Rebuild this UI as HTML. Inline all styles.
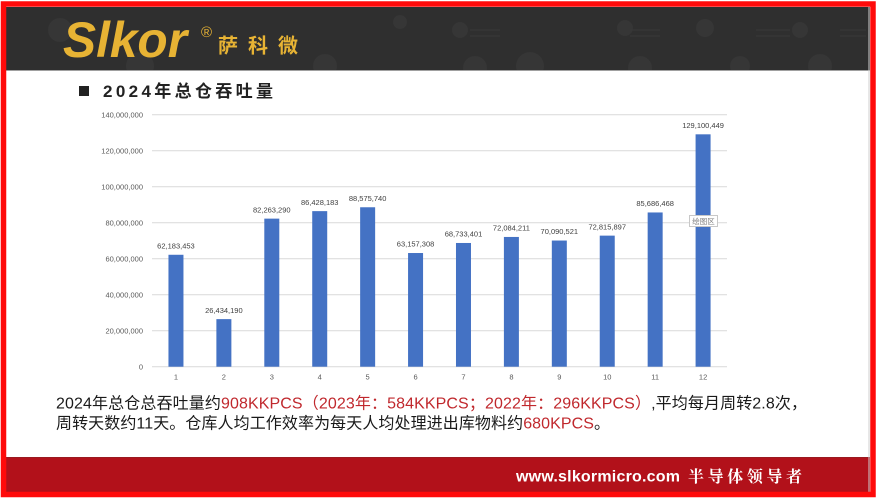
<!DOCTYPE html>
<html>
<head>
<meta charset="utf-8">
<style>
html,body{margin:0;padding:0;background:#fff;}
body{width:877px;height:500px;overflow:hidden;}
svg{display:block;}
</style>
</head>
<body>
<svg width="877" height="500" viewBox="0 0 877 500" xmlns="http://www.w3.org/2000/svg">
  <defs>
    <clipPath id="hdr"><rect x="6" y="7" width="864" height="63"/></clipPath>
  </defs>
  <rect x="0" y="0" width="877" height="500" fill="#fff"/>
  <!-- header -->
  <rect x="6" y="7" width="864" height="63" fill="#2f2f2f"/>
  <g clip-path="url(#hdr)">
    <g fill="#363636">
      <circle cx="60" cy="30" r="12"/>
      <circle cx="140" cy="66" r="14"/>
      <circle cx="325" cy="66" r="12"/>
      <circle cx="400" cy="22" r="7"/>
      <circle cx="460" cy="30" r="8"/>
      <circle cx="475" cy="68" r="12"/>
      <circle cx="530" cy="66" r="14"/>
      <circle cx="625" cy="28" r="8"/>
      <circle cx="640" cy="68" r="12"/>
      <circle cx="705" cy="28" r="9"/>
      <circle cx="740" cy="66" r="10"/>
      <circle cx="800" cy="30" r="8"/>
      <circle cx="820" cy="66" r="12"/>
    </g>
    <g stroke="#383838" stroke-width="1">
      <line x1="470" y1="30" x2="500" y2="30"/><line x1="470" y1="36" x2="500" y2="36"/>
      <line x1="630" y1="30" x2="660" y2="30"/><line x1="630" y1="36" x2="660" y2="36"/>
      <line x1="756" y1="30" x2="790" y2="30"/><line x1="756" y1="36" x2="790" y2="36"/>
      <line x1="840" y1="30" x2="866" y2="30"/><line x1="840" y1="36" x2="866" y2="36"/>
    </g>
  </g>
  <line x1="6" y1="70.5" x2="870" y2="70.5" stroke="#a0a0a0" stroke-width="1"/>
  <text x="63" y="57" font-family="Liberation Sans, sans-serif" font-weight="bold" font-style="italic" font-size="50" fill="#e7b334" textLength="124" lengthAdjust="spacingAndGlyphs">Slkor</text>
  <text x="201" y="37" font-family="Liberation Sans, sans-serif" font-size="15" fill="#e7b334">®</text>
  <text x="218" y="52.5" font-family="Liberation Sans, 'Noto Sans CJK SC', sans-serif" font-weight="bold" font-size="20" letter-spacing="10" fill="#e7b334">萨科微</text>

  <!-- title -->
  <rect x="79" y="86" width="10" height="10" fill="#222"/>
  <text x="103" y="97" font-family="Liberation Sans, 'Noto Sans CJK SC', sans-serif" font-weight="bold" font-size="17" fill="#222" textLength="170" lengthAdjust="spacing">2024年总仓吞吐量</text>

  <!-- chart gridlines -->
  <g stroke="#d9d9d9" stroke-width="1">
    <line x1="152" y1="114.7" x2="727" y2="114.7"/>
    <line x1="152" y1="150.7" x2="727" y2="150.7"/>
    <line x1="152" y1="186.7" x2="727" y2="186.7"/>
    <line x1="152" y1="222.7" x2="727" y2="222.7"/>
    <line x1="152" y1="258.7" x2="727" y2="258.7"/>
    <line x1="152" y1="294.7" x2="727" y2="294.7"/>
    <line x1="152" y1="330.7" x2="727" y2="330.7"/>
    <line x1="152" y1="366.7" x2="727" y2="366.7"/>
  </g>
  <g font-family="Liberation Sans, sans-serif" font-size="7.5" fill="#595959" text-anchor="end">
    <text x="143" y="117.4">140,000,000</text>
    <text x="143" y="153.4">120,000,000</text>
    <text x="143" y="189.4">100,000,000</text>
    <text x="143" y="225.4">80,000,000</text>
    <text x="143" y="261.4">60,000,000</text>
    <text x="143" y="297.4">40,000,000</text>
    <text x="143" y="333.4">20,000,000</text>
    <text x="143" y="369.4">0</text>
  </g>
  <!-- bars -->
  <g fill="#4472c4">
    <rect x="168.46" y="254.77" width="15" height="111.93"/>
    <rect x="216.38" y="319.12" width="15" height="47.58"/>
    <rect x="264.3" y="218.63" width="15" height="148.07"/>
    <rect x="312.22" y="211.13" width="15" height="155.57"/>
    <rect x="360.14" y="207.26" width="15" height="159.44"/>
    <rect x="408.06" y="253.02" width="15" height="113.68"/>
    <rect x="455.98" y="242.98" width="15" height="123.72"/>
    <rect x="503.9" y="236.95" width="15" height="129.75"/>
    <rect x="551.82" y="240.54" width="15" height="126.16"/>
    <rect x="599.74" y="235.63" width="15" height="131.07"/>
    <rect x="647.66" y="212.46" width="15" height="154.24"/>
    <rect x="695.58" y="134.32" width="15" height="232.38"/>
  </g>
  <g font-family="Liberation Sans, sans-serif" font-size="7.5" fill="#404040" text-anchor="middle">
    <text x="175.96" y="248.5">62,183,453</text>
    <text x="223.88" y="312.8">26,434,190</text>
    <text x="271.8" y="212.3">82,263,290</text>
    <text x="319.72" y="204.8">86,428,183</text>
    <text x="367.64" y="201">88,575,740</text>
    <text x="415.56" y="246.7">63,157,308</text>
    <text x="463.48" y="236.7">68,733,401</text>
    <text x="511.4" y="230.6">72,084,211</text>
    <text x="559.32" y="234.2">70,090,521</text>
    <text x="607.24" y="229.3">72,815,897</text>
    <text x="655.16" y="206.2">85,686,468</text>
    <text x="703.08" y="128">129,100,449</text>
  </g>
  <g font-family="Liberation Sans, sans-serif" font-size="7.5" fill="#595959" text-anchor="middle">
    <text x="175.96" y="379.4">1</text>
    <text x="223.88" y="379.4">2</text>
    <text x="271.8" y="379.4">3</text>
    <text x="319.72" y="379.4">4</text>
    <text x="367.64" y="379.4">5</text>
    <text x="415.56" y="379.4">6</text>
    <text x="463.48" y="379.4">7</text>
    <text x="511.4" y="379.4">8</text>
    <text x="559.32" y="379.4">9</text>
    <text x="607.24" y="379.4">10</text>
    <text x="655.16" y="379.4">11</text>
    <text x="703.08" y="379.4">12</text>
  </g>
  <rect x="689.5" y="215.5" width="28" height="11" fill="#fff" stroke="#c8c8c8" stroke-width="1"/>
  <text x="703.5" y="224" font-family="Liberation Sans, 'Noto Sans CJK SC', sans-serif" font-size="7.5" fill="#808080" text-anchor="middle">绘图区</text>

  <!-- body text -->
  <text x="56" y="408.5" font-family="Liberation Sans, 'Noto Sans CJK SC', sans-serif" font-size="16" fill="#1a1a1a" textLength="751" lengthAdjust="spacing">2024年总仓总吞吐量约<tspan fill="#c0282d">908KKPCS（2023年：584KKPCS；2022年：296KKPCS）</tspan>,平均每月周转2.8次，</text>
  <text x="56" y="428.5" font-family="Liberation Sans, 'Noto Sans CJK SC', sans-serif" font-size="16" fill="#1a1a1a" textLength="554" lengthAdjust="spacing">周转天数约11天。仓库人均工作效率为每天人均处理进出库物料约<tspan fill="#c0282d">680KPCS</tspan>。</text>

  <!-- footer -->
  <rect x="6" y="457" width="864" height="35" fill="#b2111a"/>
  <line x1="6" y1="457.5" x2="870" y2="457.5" stroke="#9a1a20" stroke-width="1"/>
  <text x="516" y="481.5" font-family="Liberation Sans, sans-serif" font-weight="bold" font-size="16" fill="#fff" textLength="164" lengthAdjust="spacing">www.slkormicro.com</text>
  <text x="688" y="482" font-family="'Noto Serif CJK SC', serif" font-weight="bold" font-size="16" fill="#fff" letter-spacing="3.6">半导体领导者</text>

  <!-- right thin line -->
  <line x1="869" y1="7" x2="869" y2="492" stroke="#cfcfcf" stroke-width="1"/>
  <!-- red frame -->
  <rect x="3.5" y="4" width="869.5" height="490.5" fill="none" stroke="#ff0a0a" stroke-width="5.5"/>
</svg>
</body>
</html>
